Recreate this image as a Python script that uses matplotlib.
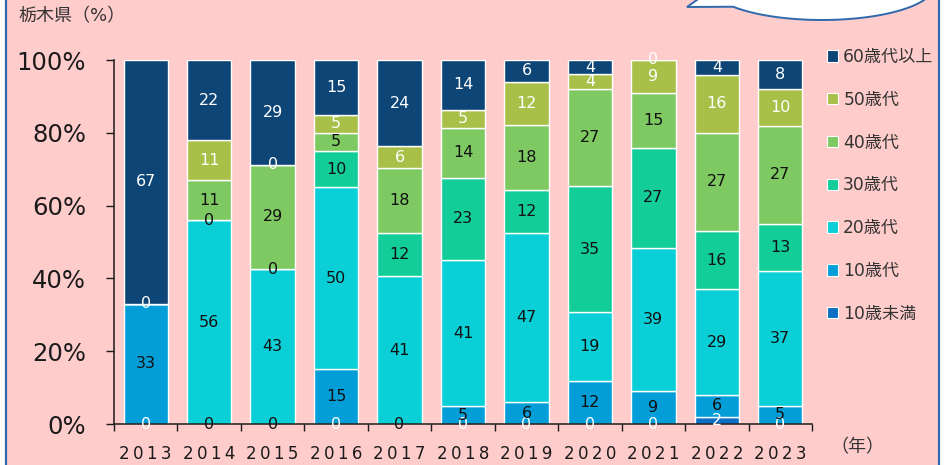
import numpy as np
import matplotlib
matplotlib.use("Agg")
import matplotlib.pyplot as plt
from matplotlib.patches import Rectangle, Polygon, Patch
from matplotlib.lines import Line2D

plt.rcParams["font.family"] = ["DejaVu Sans", "Noto Sans CJK JP"]

nan = np.nan
years = ["2013", "2014", "2015", "2016", "2017", "2018",
         "2019", "2020", "2021", "2022", "2023"]
under10 = [0, nan, nan, 0, nan, 0, 0, 0, 0, 2, 0]
teens = [33, 0, 0, 15, 0, 5, 6, 12, 9, 6, 5]
twenties = [nan, 56, 43, 50, 41, 41, 47, 19, 39, 29, 37]
thirties = [nan, 0, 0, 10, 12, 23, 12, 35, 27, 16, 13]
forties = [nan, 11, 29, 5, 18, 14, 18, 27, 15, 27, 27]
fifties = [0, 11, 0, 5, 6, 5, 12, 4, 9, 16, 10]
sixties = [67, 22, 29, 15, 24, 14, 6, 4, 0, 4, 8]

series_names = ["10歳未満", "10歳代", "20歳代", "30歳代", "40歳代", "50歳代", "60歳代以上"]
series_values = [under10, teens, twenties, thirties, forties, fifties, sixties]
series_colors = ["#0b6fc6", "#039ed8", "#0acfd7", "#13cd98", "#7ec962", "#a8bf48", "#0d4577"]
label_colors = ["white", "#111111", "#111111", "#111111", "#111111", "white", "white"]

W, H = 953, 465
PINK = "#ffcccc"
BORDER = "#2e68ad"
INK = "#1a1a1a"


def fx(px):
    return px / W


def fy(py):
    return 1 - py / H


fig = plt.figure(figsize=(W / 100, H / 100), dpi=100)
fig.set_facecolor("white")
fig.patches.append(Rectangle((fx(6), 0), fx(939) - fx(6), 1, transform=fig.transFigure,
                             facecolor=PINK, edgecolor="none", zorder=-10))
for xp in (6, 939):
    fig.lines.append(Line2D([fx(xp), fx(xp)], [0, 1], transform=fig.transFigure,
                            color=BORDER, linewidth=1.6))

# speech bubble cut off at the top right
cx, cy, a, b = 822, -14, 112, 34
t = np.linspace(2.486, 3.02 - 2 * np.pi, 120)
bx = cx + a * np.cos(t)
by = cy + b * np.sin(t)
pts = [(fx(687), fy(7))] + [(fx(u), fy(v)) for u, v in zip(bx, by)]
fig.patches.append(Polygon(pts, closed=True, transform=fig.transFigure,
                           facecolor="white", edgecolor=BORDER, linewidth=1.4))

ax = fig.add_axes([fx(114), fy(424), fx(812) - fx(114), fy(60) - fy(424)])
ax.set_facecolor("none")

x = np.arange(len(years))
raw = np.array(series_values, dtype=float)
totals = np.nansum(raw, axis=0)
heights = np.nan_to_num(raw) / totals * 100
bottom = np.zeros(len(years))
for name, vals, h, col, lcol in zip(series_names, raw, heights, series_colors, label_colors):
    ax.bar(x, h, 0.7, bottom=bottom, color=col, edgecolor="white", linewidth=1.0,
           label=name, zorder=2)
    for xi, v, hi, b0 in zip(x, vals, h, bottom):
        if not np.isnan(v):
            ax.text(xi, b0 + hi / 2, f"{int(v)}", ha="center", va="center",
                    color=lcol, fontsize=11.5, zorder=3)
    bottom = bottom + h

ax.set_xlim(-0.5, len(years) - 0.5)
ax.set_ylim(0, 100)
ax.set_yticks(np.arange(0, 101, 20))
ax.set_yticklabels([f"{v}%" for v in range(0, 101, 20)])
ax.set_xticks(x)
ax.set_xticklabels(["\u2009".join(y) for y in years])
ax.set_xticks(np.arange(-0.5, len(years)), minor=True)
ax.tick_params(axis="y", length=6, width=1, pad=14, labelsize=17.5, colors=INK)
ax.tick_params(axis="x", which="major", length=0, pad=15, labelsize=12, colors=INK)
ax.tick_params(axis="x", which="minor", length=5, width=1, color=INK)
for s in ("top", "right"):
    ax.spines[s].set_visible(False)
for s in ("left", "bottom"):
    ax.spines[s].set_color(INK)
    ax.spines[s].set_linewidth(1.1)

handles = [Patch(facecolor=c, edgecolor="white", linewidth=0.8) for c in series_colors][::-1]
ax.legend(handles, series_names[::-1], loc="upper left",
          bbox_to_anchor=(fx(827), fy(48)), bbox_transform=fig.transFigure,
          frameon=False, fontsize=12.3, handlelength=0.65, handleheight=0.65,
          handletextpad=0.3, labelspacing=1.45, borderpad=0, borderaxespad=0,
          labelcolor="#333333")

fig.text(fx(18), fy(16), "栃木県（%）", fontsize=13, va="center", ha="left", color="#333333")
fig.text(fx(857), fy(447), "（年）", fontsize=13, va="center", ha="center", color="#333333")

fig.savefig("out.png", dpi=100)
